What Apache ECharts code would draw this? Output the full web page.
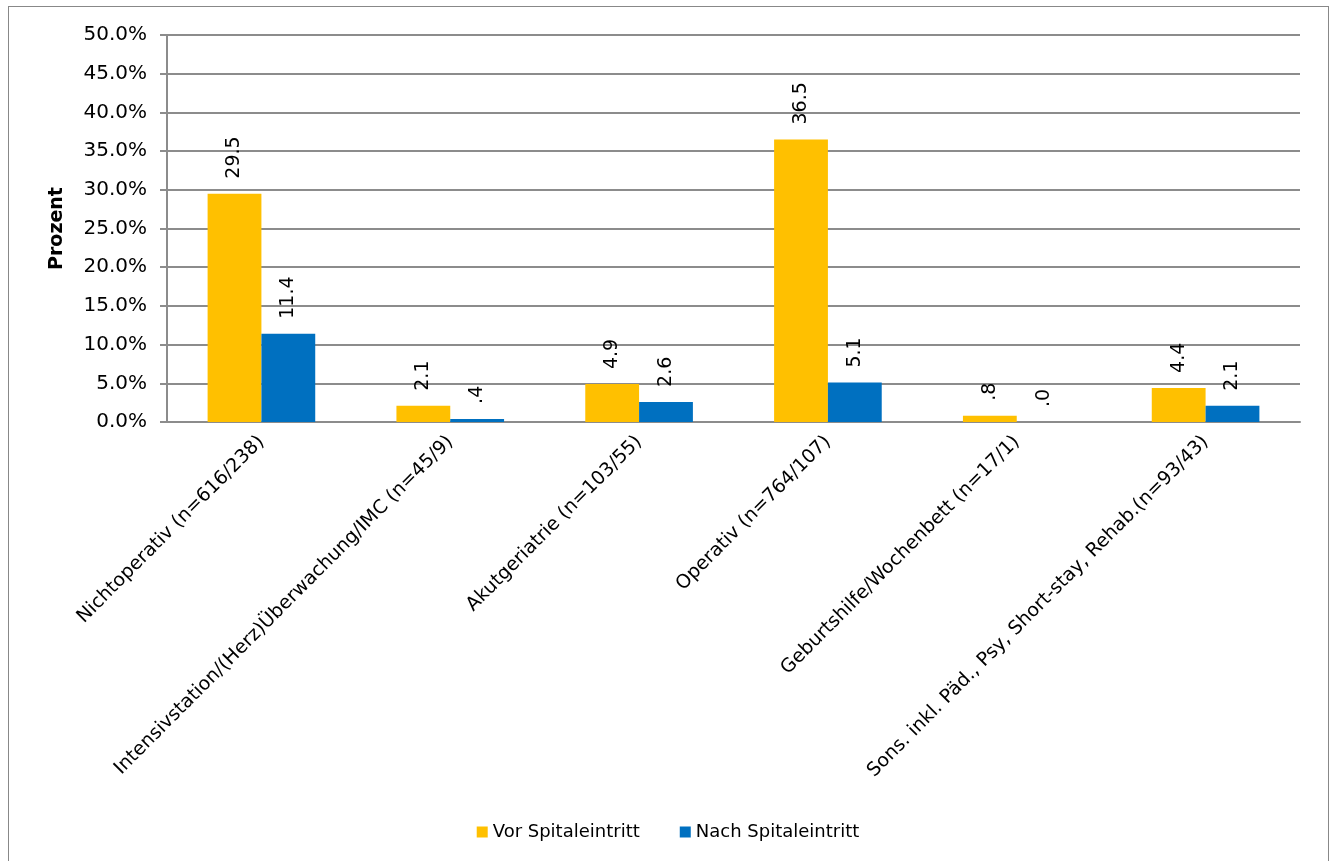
<!DOCTYPE html>
<html>
<head>
<meta charset="utf-8">
<script src="https://cdn.jsdelivr.net/npm/echarts@6/dist/echarts.min.js"></script>
<style>
  html, body { margin: 0; padding: 0; background: #fff; }
  #frame { position: absolute; left: 8px; top: 6px; width: 1321px; height: 860px; border: 1px solid #888; box-sizing: border-box; }
  #chart { position: absolute; left: 0; top: 0; width: 1336px; height: 861px; }
</style>
</head>
<body>
<div id="frame"></div>
<div id="chart"></div>
<script>
const categories = [
  'Nichtoperativ (n=616/238)',
  'Intensivstation/(Herz)Überwachung/IMC (n=45/9)',
  'Akutgeriatrie (n=103/55)',
  'Operativ (n=764/107)',
  'Geburtshilfe/Wochenbett (n=17/1)',
  'Sons. inkl. Päd., Psy, Short-stay, Rehab.(n=93/43)'
];
const seriesNames = ['Vor Spitaleintritt', 'Nach Spitaleintritt'];
const vorValues = [29.5, 2.1, 4.9, 36.5, 0.8, 4.4];
const nachValues = [11.4, 0.4, 2.6, 5.1, 0.0, 2.1];
const yAxisTitle = 'Prozent';

const font = 'Tahoma, "DejaVu Sans", Verdana, sans-serif';

// values below 1 are shown without the leading zero (".4")
function shortLabel(p) {
  const s = p.value.toFixed(1);
  return s.startsWith('0') ? s.slice(1) : s;
}

const labelStyle = {
  show: true,
  position: 'top',
  rotate: 90,
  align: 'left',
  verticalAlign: 'middle',
  distance: 15,
  color: '#000',
  fontFamily: font,
  fontSize: 19,
  formatter: shortLabel
};

const chart = echarts.init(document.getElementById('chart'));
chart.setOption({
  animation: false,
  textStyle: { fontFamily: font },
  grid: { left: 167, right: 36, top: 35, bottom: 439, containLabel: false },
  legend: {
    top: 818,
    left: 'center',
    itemWidth: 11,
    itemHeight: 11,
    itemGap: 40,
    icon: 'rect',
    textStyle: { fontFamily: font, fontSize: 18, color: '#000' },
    data: seriesNames
  },
  xAxis: {
    type: 'category',
    data: categories,
    axisLine: { lineStyle: { color: '#8c8c8c', width: 2 } },
    axisTick: { show: false },
    axisLabel: {
      rotate: 45,
      interval: 0,
      margin: 17,
      color: '#000',
      fontFamily: font,
      fontSize: 19
    }
  },
  yAxis: {
    type: 'value',
    min: 0,
    max: 50,
    interval: 5,
    name: yAxisTitle,
    nameLocation: 'middle',
    nameGap: 100,
    nameTextStyle: { fontFamily: font, fontSize: 19, fontWeight: 'bold', color: '#000' },
    axisLine: { show: true, lineStyle: { color: '#8c8c8c', width: 2 } },
    axisTick: { show: true, length: 7, lineStyle: { color: '#8c8c8c', width: 2 } },
    splitLine: { lineStyle: { color: '#8c8c8c', width: 2 } },
    axisLabel: {
      color: '#000',
      fontFamily: font,
      fontSize: 20,
      margin: 20,
      formatter: v => v.toFixed(1) + '%'
    }
  },
  series: [
    {
      name: seriesNames[0],
      type: 'bar',
      data: vorValues,
      barGap: '0%',
      barCategoryGap: '43%',
      itemStyle: { color: '#FFC000' },
      label: labelStyle
    },
    {
      name: seriesNames[1],
      type: 'bar',
      data: nachValues,
      itemStyle: { color: '#0070C0' },
      label: labelStyle
    }
  ]
});
</script>
</body>
</html>
